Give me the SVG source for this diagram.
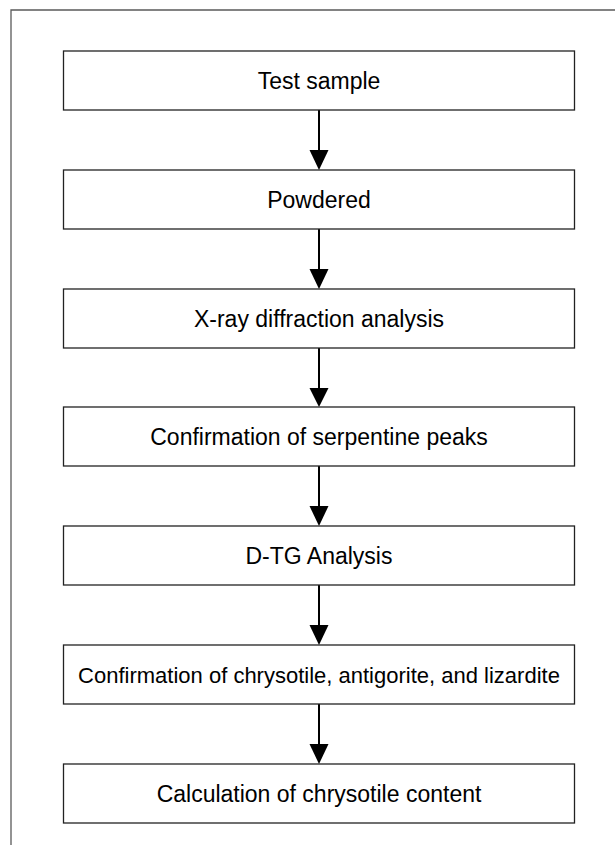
<svg xmlns="http://www.w3.org/2000/svg" width="615" height="845" viewBox="0 0 615 845">
<defs>
<style>
.frame{fill:none;stroke:#5a5a5a;stroke-width:1.3}
.box{fill:#fff;stroke:#222;stroke-width:1.3}
.lbl{font-family:"Liberation Sans",Arial,sans-serif;font-size:23px;fill:#000;text-anchor:middle}
.arr{stroke:#000;stroke-width:2;fill:none}
</style>
</defs>
<rect width="615" height="845" fill="#fff"/>
<path class="frame" d="M11,845 V10 H615"/>
<g id="connectors">
<line class="arr" x1="319" y1="110" x2="319" y2="150"/><path d="M309.5,150 L328.5,150 L319,170 Z"/>
<line class="arr" x1="319" y1="229" x2="319" y2="269"/><path d="M309.5,269 L328.5,269 L319,289 Z"/>
<line class="arr" x1="319" y1="348" x2="319" y2="388"/><path d="M309.5,388 L328.5,388 L319,407 Z"/>
<line class="arr" x1="319" y1="466" x2="319" y2="506"/><path d="M309.5,506 L328.5,506 L319,526 Z"/>
<line class="arr" x1="319" y1="585" x2="319" y2="625"/><path d="M309.5,625 L328.5,625 L319,645 Z"/>
<line class="arr" x1="319" y1="704" x2="319" y2="744"/><path d="M309.5,744 L328.5,744 L319,764 Z"/>
</g>
<g id="n1"><rect class="box" x="63.5" y="51" width="511" height="59"/><text class="lbl" x="319" y="88.5">Test sample</text></g>
<g id="n2"><rect class="box" x="63.5" y="170" width="511" height="59"/><text class="lbl" x="319" y="207.5">Powdered</text></g>
<g id="n3"><rect class="box" x="63.5" y="289" width="511" height="59"/><text class="lbl" x="319" y="326.5">X-ray diffraction analysis</text></g>
<g id="n4"><rect class="box" x="63.5" y="407" width="511" height="59"/><text class="lbl" x="319" y="444.5">Confirmation of serpentine peaks</text></g>
<g id="n5"><rect class="box" x="63.5" y="526" width="511" height="59"/><text class="lbl" x="319" y="563.5">D-TG Analysis</text></g>
<g id="n6"><rect class="box" x="63.5" y="645" width="511" height="59"/><text class="lbl" x="319" y="682.5" style="font-size:22px">Confirmation of chrysotile, antigorite, and lizardite</text></g>
<g id="n7"><rect class="box" x="63.5" y="764" width="511" height="59"/><text class="lbl" x="319" y="801.5">Calculation of chrysotile content</text></g>
</svg>
